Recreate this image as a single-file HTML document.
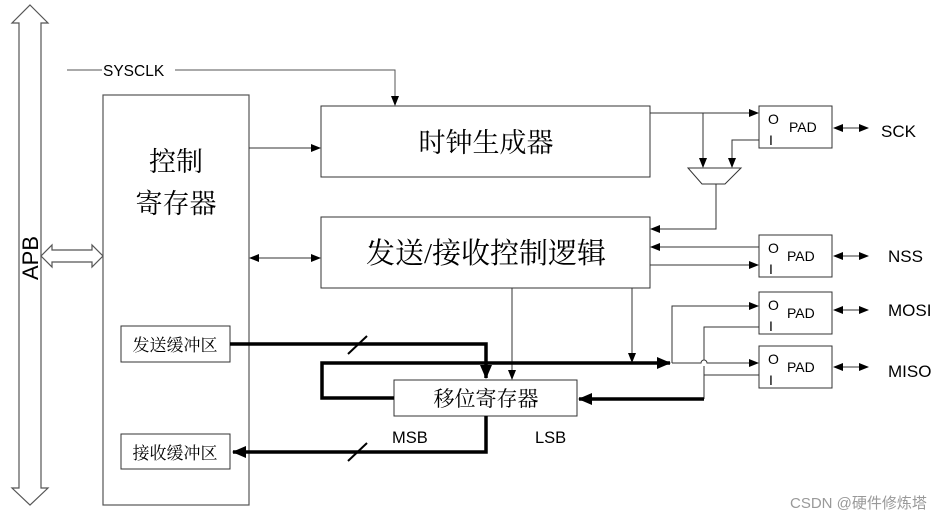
<!DOCTYPE html>
<html><head><meta charset="utf-8"><style>
html,body{margin:0;padding:0;background:#fff;}
svg{display:block;}
text{font-family:"Liberation Sans","Noto Sans CJK SC",sans-serif;fill:#000;}
.cn{font-family:"Liberation Serif","Noto Serif CJK SC",serif;}
</style></head><body>
<svg width="949" height="518" viewBox="0 0 949 518" xmlns="http://www.w3.org/2000/svg">
<defs>
<marker id="a" markerWidth="10" markerHeight="8" refX="9" refY="4" orient="auto" markerUnits="userSpaceOnUse"><path d="M0,0 L10,4 L0,8 z" fill="#000"/></marker>
<marker id="as" markerWidth="10" markerHeight="8" refX="1" refY="4" orient="auto" markerUnits="userSpaceOnUse"><path d="M10,0 L0,4 L10,8 z" fill="#000"/></marker>
<marker id="A" markerWidth="14" markerHeight="12" refX="13" refY="6" orient="auto" markerUnits="userSpaceOnUse"><path d="M0,0 L14,6 L0,12 z" fill="#000"/></marker>
</defs>
<path d="M30,5 L48,23 L41,23 L41,488 L48,488 L30,505 L12,488 L19,488 L19,23 L12,23 Z" fill="#fff" stroke="#555" stroke-width="1.2"/>
<text x="0" y="0" transform="translate(38,258) rotate(-90)" font-size="22" text-anchor="middle">APB</text>
<path d="M41,256 L52,245 L52,250 L92,250 L92,245 L103,256 L92,267 L92,262 L52,262 L52,267 Z" fill="#fff" stroke="#555" stroke-width="1.2"/>
<rect x="103" y="95" width="146" height="410" fill="#fff" stroke="#555" stroke-width="1.2"/>
<text class="cn" x="176" y="171" font-size="27" text-anchor="middle">控制</text>
<text class="cn" x="176" y="213" font-size="27" text-anchor="middle">寄存器</text>
<rect x="121" y="326" width="109" height="36" fill="#fff" stroke="#333"/>
<text class="cn" x="175" y="351" font-size="17" text-anchor="middle">发送缓冲区</text>
<rect x="121" y="434" width="109" height="35" fill="#fff" stroke="#333"/>
<text class="cn" x="175" y="459" font-size="17" text-anchor="middle">接收缓冲区</text>
<line x1="67" y1="70" x2="102" y2="70" stroke="#555"/>
<text x="103" y="76" font-size="15.5">SYSCLK</text>
<polyline points="175,70 395,70 395,105" fill="none" stroke="#555" marker-end="url(#a)"/>
<rect x="321" y="106" width="329" height="71" fill="#fff" stroke="#333"/>
<text class="cn" x="486" y="152" font-size="27" text-anchor="middle">时钟生成器</text>
<line x1="249" y1="148" x2="320" y2="148" stroke="#333" marker-end="url(#a)"/>
<rect x="321" y="217" width="329" height="71" fill="#fff" stroke="#333"/>
<text class="cn" x="486" y="263" font-size="29" text-anchor="middle">发送/接收控制逻辑</text>
<line x1="250" y1="258" x2="320" y2="258" stroke="#333" marker-start="url(#as)" marker-end="url(#a)"/>
<g stroke="#333" fill="#fff">
<rect x="759" y="106" width="73" height="42"/>
<rect x="759" y="235" width="73" height="42"/>
<rect x="759" y="292" width="73" height="42"/>
<rect x="759" y="346" width="73" height="42"/>
</g>
<g font-size="14">
<text x="768" y="124">O</text><text x="769" y="145">I</text><text x="789" y="132">PAD</text>
<text x="768" y="253">O</text><text x="769" y="274">I</text><text x="787" y="261">PAD</text>
<text x="768" y="310">O</text><text x="769" y="331">I</text><text x="787" y="318">PAD</text>
<text x="768" y="364">O</text><text x="769" y="385">I</text><text x="787" y="372">PAD</text>
</g>
<g stroke="#333" marker-start="url(#as)" marker-end="url(#a)">
<line x1="834" y1="128" x2="868" y2="128"/>
<line x1="834" y1="256" x2="868" y2="256"/>
<line x1="834" y1="310" x2="868" y2="310"/>
<line x1="834" y1="367" x2="868" y2="367"/>
</g>
<g font-size="17">
<text x="881" y="137">SCK</text>
<text x="888" y="262">NSS</text>
<text x="888" y="316">MOSI</text>
<text x="888" y="377">MISO</text>
</g>
<g fill="none" stroke="#333">
<line x1="650" y1="113" x2="758" y2="113" marker-end="url(#a)"/>
<line x1="703" y1="113" x2="703" y2="167" marker-end="url(#a)"/>
<polyline points="759,140 732,140 732,167" marker-end="url(#a)"/>
<polygon points="688,168 741,168 725,184 702,184" fill="#fff"/>
<polyline points="716,184 716,229 651,229" marker-end="url(#a)"/>
<line x1="759" y1="247" x2="651" y2="247" marker-end="url(#a)"/>
<line x1="650" y1="265" x2="758" y2="265" marker-end="url(#a)"/>
<polyline points="672,363 672,306 758,306" marker-end="url(#a)"/>
<path d="M672,363 L701,363 A3,3 0 0 1 707,363 L758,363" marker-end="url(#a)"/>
<polyline points="759,327 704,327 704,360"/>
<polyline points="704,366 704,399"/>
<line x1="759" y1="375" x2="704" y2="375"/>
<line x1="512" y1="288" x2="512" y2="379" marker-end="url(#a)"/>
<line x1="632" y1="288" x2="632" y2="362" marker-end="url(#a)"/>
</g>
<rect x="394" y="380" width="183" height="36" fill="#fff" stroke="#333"/>
<text class="cn" x="486" y="406" font-size="21" text-anchor="middle">移位寄存器</text>
<text x="392" y="443" font-size="16.5">MSB</text>
<text x="535" y="443" font-size="16.5">LSB</text>
<g fill="none" stroke="#000" stroke-width="3.5">
<polyline points="230,344 486,344 486,378" marker-end="url(#A)"/>
<polyline points="394,398 322,398 322,363 670,363" marker-end="url(#A)"/>
<polyline points="704,399 579,399" marker-end="url(#A)"/>
<polyline points="486,416 486,452 233,452" marker-end="url(#A)"/>
</g>
<g stroke="#000" stroke-width="2">
<line x1="348" y1="354" x2="367" y2="336"/>
<line x1="348" y1="461" x2="367" y2="443"/>
</g>
<text x="790" y="508" font-size="15" style="fill:#999">CSDN @硬件修炼塔</text>
</svg>
</body></html>
